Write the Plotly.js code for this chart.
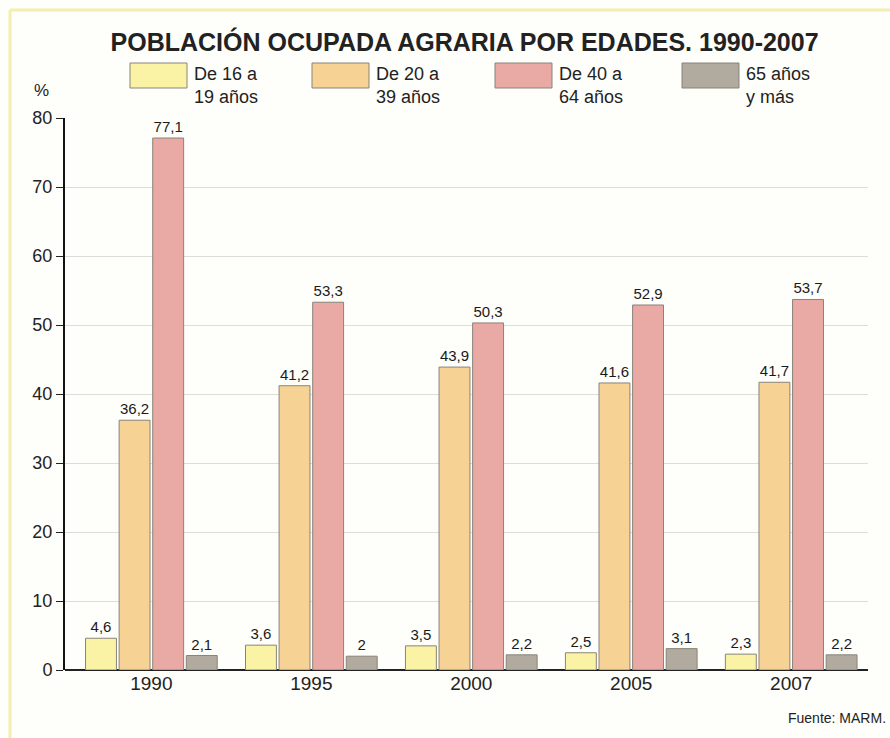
<!DOCTYPE html>
<html>
<head>
<meta charset="utf-8">
<script src="https://cdn.plot.ly/plotly-3.0.1.min.js"></script>
<style>html,body{margin:0;padding:0;background:#fefefb;}#chart{width:890px;height:738px;}</style>
</head>
<body>
<div id="chart"></div>
<script>
// Data
const years = ['1990', '1995', '2000', '2005', '2007'];
const seriesNames = ['De 16 a<br>19 años', 'De 20 a<br>39 años', 'De 40 a<br>64 años', '65 años<br>y más'];
const s16_19 = [4.6, 3.6, 3.5, 2.5, 2.3];
const s20_39 = [36.2, 41.2, 43.9, 41.6, 41.7];
const s40_64 = [77.1, 53.3, 50.3, 52.9, 53.7];
const s65plus = [2.1, 2.0, 2.2, 3.1, 2.2];
const yTicks = [0, 10, 20, 30, 40, 50, 60, 70, 80];

const colors = ['#faf3a6', '#f6d294', '#e9a9a5', '#b1aa9f'];
const allSeries = [s16_19, s20_39, s40_64, s65plus];
const FONT = '"Liberation Sans Narrow", "Arial Narrow", "Liberation Sans", Arial, sans-serif';

// plot area in pixels
const L = 65, R = 868, T = 118, B = 670;
const px = x => (x - L) / (R - L);
const py = y => (B - y) / (B - T);

const traces = allSeries.map((vals, i) => ({
  type: 'bar',
  x: years,
  y: vals,
  name: seriesNames[i],
  marker: {color: colors[i], line: {color: '#8a8378', width: 1}},
  texttemplate: '%{y}',
  textposition: 'outside',
  cliponaxis: false,
  textfont: {family: FONT, size: 15, color: '#1a1a1a'},
  showlegend: false,
  hoverinfo: 'x+y+name'
}));

const shapes = [];
const annotations = [];
// custom legend
const swX = [130, 312, 495, 682];
seriesNames.forEach((n, i) => {
  shapes.push({type: 'rect', xref: 'paper', yref: 'paper',
    x0: px(swX[i]), x1: px(swX[i] + 57), y0: py(88), y1: py(63),
    fillcolor: colors[i], line: {color: '#8a8378', width: 1}});
  annotations.push({xref: 'paper', yref: 'paper', x: px(swX[i] + 62), y: py(85),
    xanchor: 'left', yanchor: 'middle', align: 'left', showarrow: false,
    text: n, font: {family: FONT, size: 18, color: '#222'}});
});
// page frame lines
shapes.push({type: 'line', xref: 'paper', yref: 'paper', x0: px(10), x1: px(10), y0: py(10), y1: py(738), line: {color: '#f3eeb0', width: 3}});
shapes.push({type: 'line', xref: 'paper', yref: 'paper', x0: px(10), x1: px(890), y0: py(10), y1: py(10), line: {color: '#f3eeb0', width: 3}});

annotations.push({xref: 'paper', yref: 'paper', x: px(32), y: py(90), xanchor: 'left', yanchor: 'middle',
  showarrow: false, text: '%', font: {family: FONT, size: 17, color: '#222'}});
annotations.push({xref: 'paper', yref: 'paper', x: px(888), y: py(718), xanchor: 'right', yanchor: 'middle',
  showarrow: false, text: 'Fuente: MARM.', font: {family: FONT, size: 14, color: '#222'}});

const layout = {
  width: 890, height: 738,
  paper_bgcolor: '#fefefb', plot_bgcolor: '#fefefb',
  separators: ',.',
  margin: {l: L, r: 890 - R, t: T, b: 738 - B},
  title: {text: '<b>POBLACIÓN OCUPADA AGRARIA POR EDADES. 1990-2007</b>',
    font: {family: FONT, size: 25, color: '#222'}, x: 0.522, xanchor: 'center', y: 1 - 42 / 738, yanchor: 'middle'},
  barmode: 'group',
  bargap: 0.16,
  bargroupgap: 0.08,
  xaxis: {type: 'category', range: [-0.54, 4.48], showgrid: false, ticks: '',
    showline: false, zeroline: false,
    tickfont: {family: FONT, size: 19, color: '#222'}},
  yaxis: {range: [0, 80], tickvals: yTicks, ticktext: yTicks.map(String),
    showgrid: true, gridcolor: '#dcdcd8', gridwidth: 1,
    showline: true, linecolor: '#111', linewidth: 2,
    ticks: 'outside', ticklen: 7, tickcolor: '#222', tickwidth: 1,
    zeroline: true, zerolinecolor: '#222', zerolinewidth: 2,
    tickfont: {family: FONT, size: 18, color: '#222'}},
  shapes: shapes,
  annotations: annotations
};

Plotly.newPlot('chart', traces, layout, {displayModeBar: false, staticPlot: true});
</script>
</body>
</html>
